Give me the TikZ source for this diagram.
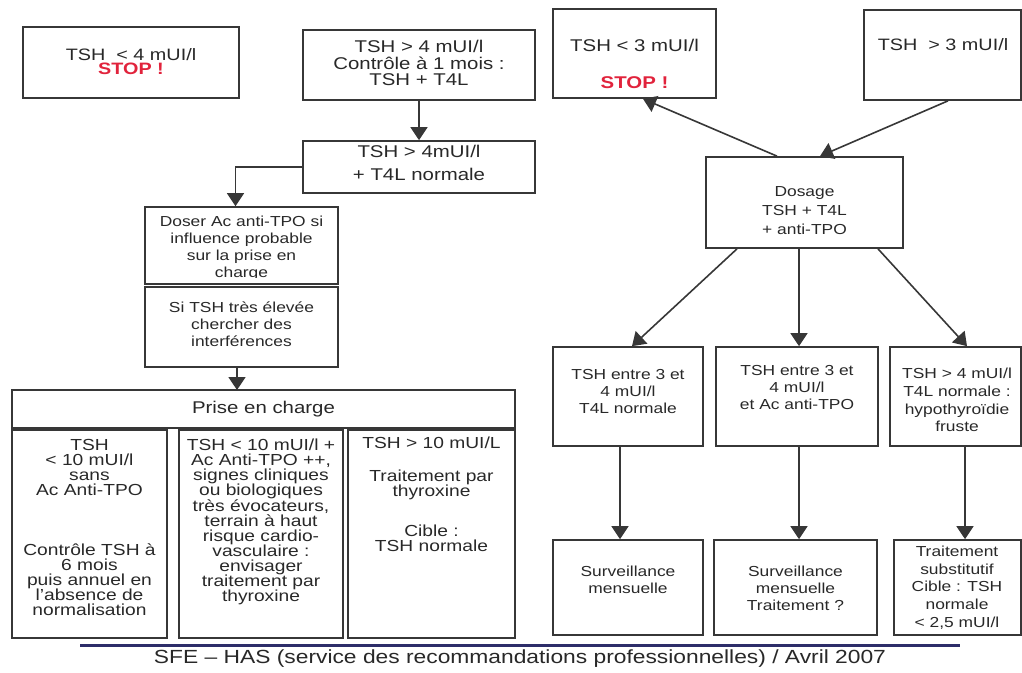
\documentclass[tikz,border=0pt]{standalone}
\usepackage{fontspec}
\setmainfont[FakeStretch=1.2]{Liberation Sans}
\usetikzlibrary{arrows.meta}

\definecolor{linegray}{RGB}{55,55,55}
\definecolor{textgray}{RGB}{40,40,40}
\definecolor{stopred}{RGB}{225,35,60}
\definecolor{footnavy}{RGB}{45,45,105}

\newcommand{\stoptext}{{\color{stopred}\bfseries STOP !}}

\begin{document}
\begin{tikzpicture}[x=1pt, y=-1pt,
    box/.style={draw=linegray, line width=1.7pt, inner sep=0pt},
    txt/.style={align=center, text=textgray, inner sep=0pt},
    arr/.style={draw=linegray, line width=1.6pt, -{Triangle[width=17pt,length=13pt]}},
    large/.style={font=\fontsize{17}{16.5}\selectfont},
    small/.style={font=\fontsize{14.5}{17}\selectfont},
    cell/.style={font=\fontsize{16}{15}\selectfont}]
    \useasboundingbox (0,0) rectangle (1022,672);

    % Left: TSH > 4 mUI/l
    \node[box, minimum width=216, minimum height=71] (stopA) at (131,62.5) {};
    \node[txt, font=\fontsize{16.5}{14.5}\selectfont] (stopAt) at (131,61.5) {TSH~~< 4 mUI/l\\ \stoptext};
    \node[box, minimum width=232, minimum height=70] (ctrl) at (419,65) {};
    \node[txt, large] (ctrlt) at (419,63) {TSH > 4 mUI/l\\ Contrôle à 1 mois :\\ TSH + T4L};
    \node[box, minimum width=232, minimum height=52] (nrm) at (419,167) {};
    \node[txt, large] (nrmt) at (419,163) {TSH > 4mUI/l\\[6pt] + T4L normale};

    \node[box, minimum width=193, minimum height=77] (doser) at (241.5,245.5) {};
    \begin{scope}
      \clip (doser.north west) rectangle ([yshift=7pt]doser.south east);
      \node[txt, small, anchor=north] (dosert) at (241.5,216) {Doser Ac anti-TPO si\\ influence probable\\ sur la prise en\\ charge};
    \end{scope}
    \node[box, minimum width=193, minimum height=80] (si) at (241.5,327) {};
    \node[txt, small] (sit) at (241.5,324) {Si TSH très élevée\\ chercher des\\ interférences};

    \draw[arr] (ctrl) -- (nrm);
    \draw[arr] (nrm.west) -| ([xshift=-6pt]doser.north);
    \draw[arr] ([xshift=-4.5pt]si.south) -- ([xshift=-4.5pt]si.south |- 0,390);

    % Prise en charge
    \node[box, minimum width=503, minimum height=38] (prise) at (263.5,409) {};
    \node[txt, large] (priset) at (prise) {Prise en charge};
    \node[box, minimum width=155, minimum height=208] (cellA) at (89.5,534) {};
    \node[box, minimum width=164, minimum height=208] (cellB) at (261,534) {};
    \node[box, minimum width=167, minimum height=208] (cellC) at (431.5,534) {};
    \node[txt, cell, anchor=north] (cellAt) at (89.5,439) {TSH\\ < 10 mUI/l\\ sans\\ Ac Anti-TPO\\[45pt] Contrôle TSH à\\ 6 mois\\ puis annuel en\\ l'absence de\\ normalisation};
    \node[txt, cell, anchor=north] (cellBt) at (261,439) {TSH < 10 mUI/l +\\ Ac Anti-TPO ++,\\ signes cliniques\\ ou biologiques\\ très évocateurs,\\ terrain à haut\\ risque cardio-\\ vasculaire :\\ envisager\\ traitement par\\ thyroxine};
    \node[txt, cell, anchor=north] (cellCt) at (431.5,437) {TSH > 10 mUI/L\\[18pt] Traitement par\\ thyroxine\\[25pt] Cible :\\ TSH normale};

    % Right: TSH > 3 mUI/l
    \node[box, minimum width=163, minimum height=89] (stopB) at (634.5,53.5) {};
    \node[txt, font=\fontsize{17}{17}\selectfont] (stopBt) at (634.5,63.5) {TSH < 3 mUI/l\\[20pt] \stoptext};
    \node[box, minimum width=157, minimum height=90] (thr) at (942.5,55) {};
    \node[txt, font=\fontsize{16.5}{17}\selectfont] (thrt) at (943,45) {TSH~~> 3 mUI/l};
    \node[box, minimum width=197, minimum height=91] (dos) at (804.5,202.5) {};
    \node[txt, font=\fontsize{14.5}{19}\selectfont] (dost) at (804.5,211) {Dosage\\ TSH + T4L\\ + anti-TPO};

    \node[box, minimum width=150, minimum height=99] (r1a) at (628,396.5) {};
    \node[box, minimum width=162, minimum height=99] (r1b) at (797,396.5) {};
    \node[box, minimum width=131, minimum height=99] (r1c) at (955.5,396.5) {};
    \node[txt, small] (r1at) at (628,392) {TSH entre 3 et\\ 4 mUI/l\\ T4L normale};
    \node[txt, small] (r1bt) at (797,388) {TSH entre 3 et\\ 4 mUI/l\\ et Ac anti-TPO};
    \node[txt, font=\fontsize{14.5}{17.7}\selectfont] (r1ct) at (957,400) {TSH > 4 mUI/l\\ T4L normale :\\ hypothyroïdie\\ fruste};

    \node[box, minimum width=150, minimum height=95] (r2a) at (628,587.5) {};
    \node[box, minimum width=163, minimum height=95] (r2b) at (795.5,587.5) {};
    \node[box, minimum width=127, minimum height=95] (r2c) at (957.5,587.5) {};
    \node[txt, small] (r2at) at (628,580) {Surveillance\\ mensuelle};
    \node[txt, small] (r2bt) at (795.5,588) {Surveillance\\ mensuelle\\ Traitement ?};
    \node[txt, font=\fontsize{14.5}{17.7}\selectfont] (r2ct) at (957,587.5) {Traitement\\ substitutif\\ Cible : TSH\\ normale\\ < 2,5 mUI/l};

    \draw[arr] ([xshift=-27.5pt]dos.north) -- ([xshift=8.5pt]stopB.south);
    \draw[arr] ([xshift=5.5pt]thr.south) -- ([xshift=15.5pt]dos.north);
    \draw[arr] ([xshift=-67.5pt]dos.south) -- ([xshift=4pt]r1a.north);
    \draw[arr] ([xshift=-5.5pt]dos.south) -- ([xshift=-5.5pt]dos.south |- r1b.north);
    \draw[arr] ([xshift=73.5pt]dos.south) -- ([xshift=11.5pt]r1c.north);
    \draw[arr] ([xshift=-8pt]r1a.south) -- ([xshift=-8pt]r1a.south |- r2a.north);
    \draw[arr] ([xshift=2pt]r1b.south) -- ([xshift=2pt]r1b.south |- r2b.north);
    \draw[arr] ([xshift=9.5pt]r1c.south) -- ([xshift=9.5pt]r1c.south |- r2c.north);

    % Source
    \draw[footnavy, line width=3pt] (80,645) -- (960,645);
    \node[txt, font=\fontsize{19}{19}\selectfont] (src) at (520,659) {SFE -- HAS (service des recommandations professionnelles) / Avril 2007};
\end{tikzpicture}
\end{document}
